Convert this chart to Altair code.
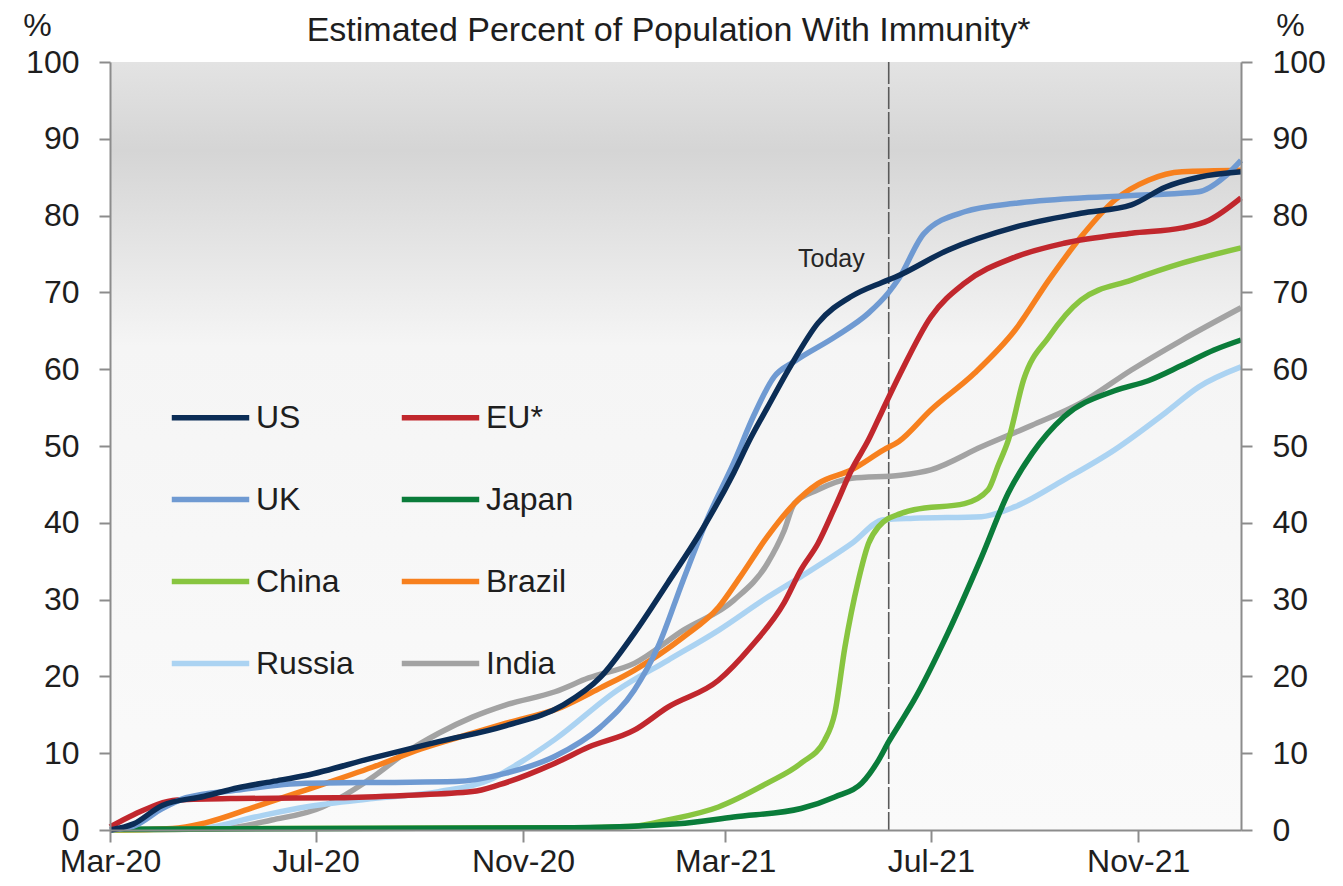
import altair as alt
import pandas as pd

FONT = "Liberation Sans, Arial, sans-serif"

# legend is filled column by column: this order gives rows US|EU*, UK|Japan, China|Brazil, Russia|India
series_names = ["US", "UK", "China", "Russia", "EU*", "Japan", "Brazil", "India"]
series_colors = ["#0b2d56", "#6f9ad2", "#88c540", "#abd3f2", "#c1272d", "#0a7c3a", "#f7801e", "#a3a3a3"]

us_dates = ["2020-03-01", "2020-03-15", "2020-04-01", "2020-04-26", "2020-05-16", "2020-06-05", "2020-06-25",
            "2020-08-04", "2020-09-12", "2020-10-22", "2020-11-25", "2020-12-17", "2021-01-06", "2021-01-26",
            "2021-02-15", "2021-03-06", "2021-03-16", "2021-03-26", "2021-04-09", "2021-04-25", "2021-05-15",
            "2021-06-02", "2021-06-10", "2021-07-11", "2021-08-20", "2021-09-28", "2021-10-28", "2021-11-17",
            "2021-12-07", "2022-01-01"]
us_values = [0.0, 0.8, 3.2, 4.4, 5.5, 6.3, 7.1, 9.4, 11.5, 13.6, 16.3, 19.9, 25.6, 32.2, 39.0, 46.5, 51.0, 55.0,
             60.5, 66.0, 69.5, 71.3, 72.0, 75.5, 78.5, 80.3, 81.4, 83.7, 85.0, 85.7]

eu_dates = ["2020-03-01", "2020-03-15", "2020-04-10", "2020-05-15", "2020-07-14", "2020-08-23", "2020-10-02",
            "2020-10-18", "2020-11-20", "2020-12-10", "2021-01-06", "2021-01-26", "2021-02-25", "2021-03-16",
            "2021-04-05", "2021-04-15", "2021-04-25", "2021-05-05", "2021-05-15", "2021-05-25", "2021-06-02",
            "2021-06-13", "2021-07-01", "2021-07-21", "2021-08-20", "2021-09-18", "2021-10-28", "2021-11-27",
            "2021-12-13", "2022-01-01"]
eu_values = [0.4, 2.0, 3.9, 4.1, 4.2, 4.5, 5.0, 5.9, 8.7, 10.8, 13.0, 16.0, 19.5, 23.8, 29.6, 33.9, 37.3, 42.0,
             46.9, 50.8, 54.5, 59.5, 66.8, 71.2, 74.6, 76.4, 77.7, 78.4, 79.4, 82.3]

uk_dates = ["2020-03-01", "2020-03-15", "2020-04-01", "2020-04-15", "2020-05-16", "2020-06-25", "2020-08-15",
            "2020-09-22", "2020-10-22", "2020-11-20", "2020-12-17", "2021-01-06", "2021-01-20", "2021-02-04",
            "2021-02-19", "2021-03-06", "2021-03-18", "2021-03-30", "2021-04-11", "2021-05-05", "2021-05-25",
            "2021-06-06", "2021-06-12", "2021-06-27", "2021-07-21", "2021-08-20", "2021-09-28", "2021-11-07",
            "2021-12-07", "2021-12-22", "2022-01-01"]
uk_values = [0.0, 0.5, 2.8, 4.2, 5.2, 6.1, 6.2, 6.3, 7.4, 9.6, 13.4, 18.2, 23.8, 32.5, 40.8, 47.8, 54.0, 59.0,
             61.0, 64.2, 67.3, 70.0, 71.8, 77.7, 80.5, 81.6, 82.3, 82.7, 83.1, 85.0, 87.2]

japan_dates = ["2020-03-01", "2020-12-01", "2021-02-01", "2021-03-06", "2021-04-15", "2021-05-05", "2021-05-21",
               "2021-05-31", "2021-06-06", "2021-06-13", "2021-06-21", "2021-07-11", "2021-07-31", "2021-08-16",
               "2021-08-30", "2021-09-18", "2021-10-18", "2021-11-07", "2021-11-27", "2021-12-16", "2022-01-01"]
japan_values = [0.1, 0.3, 0.8, 1.7, 2.8, 4.3, 6.1, 9.1, 11.5, 14.0, 16.9, 25.6, 35.5, 43.9, 49.0, 53.8, 57.2,
                58.5, 60.5, 62.5, 63.8]

china_dates = ["2020-03-01", "2020-06-01", "2020-12-01", "2021-01-06", "2021-01-26", "2021-02-25", "2021-03-26",
               "2021-04-15", "2021-04-29", "2021-05-05", "2021-05-11", "2021-05-19", "2021-05-25", "2021-05-31",
               "2021-06-13", "2021-06-21", "2021-07-21", "2021-08-04", "2021-08-10", "2021-08-16", "2021-08-25",
               "2021-09-09", "2021-09-28", "2021-10-28", "2021-11-27", "2022-01-01"]
china_values = [0.0, 0.2, 0.3, 0.5, 1.3, 3.0, 6.1, 8.7, 11.7, 15.2, 23.8, 32.5, 37.3, 39.5, 41.2, 41.7, 42.5,
                44.3, 47.5, 50.8, 58.6, 64.2, 69.0, 71.6, 73.8, 75.8]

brazil_dates = ["2020-03-01", "2020-04-07", "2020-04-26", "2020-05-26", "2020-06-25", "2020-08-04", "2020-09-02",
                "2020-10-02", "2020-10-22", "2020-11-24", "2020-12-17", "2021-01-06", "2021-02-04", "2021-02-25",
                "2021-03-10", "2021-03-26", "2021-04-11", "2021-04-25", "2021-05-15", "2021-06-03", "2021-06-12",
                "2021-07-01", "2021-07-27", "2021-08-20", "2021-09-09", "2021-09-28", "2021-10-18", "2021-11-07",
                "2021-11-27", "2022-01-01"]
brazil_values = [0.0, 0.2, 0.9, 3.0, 5.2, 8.2, 10.6, 12.6, 13.9, 16.0, 18.5, 20.8, 25.1, 29.0, 33.0, 38.2, 42.5,
                 45.1, 46.9, 49.5, 50.6, 54.7, 59.5, 65.1, 71.6, 77.2, 82.0, 84.6, 85.7, 85.9]

russia_dates = ["2020-03-01", "2020-04-26", "2020-05-26", "2020-06-25", "2020-08-04", "2020-09-12", "2020-10-12",
                "2020-10-29", "2020-11-20", "2020-12-27", "2021-01-26", "2021-02-25", "2021-03-26", "2021-04-15",
                "2021-05-15", "2021-06-03", "2021-06-21", "2021-07-31", "2021-08-20", "2021-09-18", "2021-10-18",
                "2021-11-17", "2021-12-07", "2022-01-01"]
russia_values = [0.0, 0.3, 1.7, 3.0, 4.1, 5.0, 6.5, 8.6, 11.8, 18.2, 22.1, 26.0, 30.3, 33.0, 37.3, 40.4, 40.6,
                 40.8, 42.1, 45.6, 49.5, 54.3, 57.7, 60.3]

india_dates = ["2020-03-01", "2020-05-07", "2020-06-05", "2020-07-05", "2020-07-14", "2020-08-04", "2020-08-23",
               "2020-09-12", "2020-10-02", "2020-10-22", "2020-11-20", "2020-12-10", "2021-01-06", "2021-02-04",
               "2021-03-06", "2021-03-26", "2021-04-05", "2021-04-11", "2021-04-25", "2021-05-15", "2021-06-13",
               "2021-07-01", "2021-07-31", "2021-08-30", "2021-09-28", "2021-10-28", "2021-11-27", "2022-01-01"]
india_values = [0.0, 0.2, 1.3, 3.0, 4.0, 6.9, 10.0, 12.6, 14.7, 16.3, 18.0, 19.8, 21.7, 26.0, 29.9, 34.7, 39.0,
                42.5, 44.3, 45.8, 46.2, 46.9, 49.9, 52.7, 55.6, 59.9, 63.8, 68.0]

tick_dates = ["2020-03-01", "2020-07-01", "2020-11-01", "2021-03-01", "2021-07-01", "2021-11-01"]
y_ticks = [0, 10, 20, 30, 40, 50, 60, 70, 80, 90, 100]
x_domain = ["2020-03-01", "2022-01-01"]
today_date = "2021-06-06"
today_label = "Today"
today_label_y = 74.3
title_text = "Estimated Percent of Population With Immunity*"

series_data = {
    "US": (us_dates, us_values),
    "EU*": (eu_dates, eu_values),
    "UK": (uk_dates, uk_values),
    "Japan": (japan_dates, japan_values),
    "China": (china_dates, china_values),
    "Brazil": (brazil_dates, brazil_values),
    "Russia": (russia_dates, russia_values),
    "India": (india_dates, india_values),
}
draw_order = ["India", "Russia", "Brazil", "China", "Japan", "EU*", "UK", "US"]

rows = []
for name in draw_order:
    ds, vs = series_data[name]
    for d, v in zip(ds, vs):
        rows.append({"date": d + "T00:00:00", "value": v, "series": name})
df = pd.DataFrame(rows)

bg_df = pd.DataFrame({"start": [x_domain[0] + "T00:00:00"], "end": [x_domain[1] + "T00:00:00"],
                      "lo": [0], "hi": [100]})
today_df = pd.DataFrame({"date": [today_date + "T00:00:00"], "value": [today_label_y], "label": [today_label]})


def dt(s):
    y, m, d = s.split("-")
    return alt.DateTime(year=int(y), month=int(m), date=int(d))


AXIS_COLOR = "#8c8c8c"
LABEL_COLOR = "#1e1e1e"

x_scale = alt.Scale(domain=[dt(x_domain[0]), dt(x_domain[1])], nice=False)
y_scale = alt.Scale(domain=[0, 100], nice=False)

x_axis = alt.Axis(values=[dt(s) for s in tick_dates], format="%b-%y", labelFont=FONT, labelFontSize=32,
                  labelColor=LABEL_COLOR, tickSize=12, tickWidth=2, tickColor=AXIS_COLOR, domainColor=AXIS_COLOR,
                  domainWidth=2, grid=False, labelPadding=4, labelFlush=False, labelOverlap=False, zindex=2)


def y_axis(orient, title_x):
    return alt.Axis(orient=orient, values=y_ticks, labelFont=FONT, labelFontSize=32, labelColor=LABEL_COLOR,
                    tickSize=11, tickWidth=2, tickColor=AXIS_COLOR, domainColor=AXIS_COLOR, domainWidth=2,
                    grid=False, labelPadding=20, labelOverlap=False, labelFlush=False, zindex=2,
                    titleAngle=0, titleX=title_x, titleY=-37, titleAlign="center", titleBaseline="middle",
                    titleFont=FONT, titleFontSize=32, titleFontWeight="normal", titleColor=LABEL_COLOR)


x_enc = alt.X("date:T", scale=x_scale, axis=x_axis, title=None)
x_enc_bg = alt.X("start:T", scale=x_scale, axis=x_axis, title=None)

gradient = alt.LinearGradient(
    gradient="linear",
    stops=[alt.GradientStop(color="#e3e3e3", offset=0),
           alt.GradientStop(color="#d5d5d5", offset=0.115),
           alt.GradientStop(color="#f5f5f5", offset=0.37),
           alt.GradientStop(color="#fafafa", offset=1)],
    x1=0, x2=0, y1=0, y2=1)

bg = alt.Chart(bg_df).mark_rect(fill=gradient, stroke=None).encode(
    x=x_enc_bg, x2="end:T",
    y=alt.Y("lo:Q", scale=y_scale, axis=y_axis("left", -73), title="%"),
    y2="hi:Q",
)

lines = alt.Chart(df).mark_line(strokeWidth=5.5, interpolate="monotone").encode(
    x=x_enc,
    y=alt.Y("value:Q", scale=y_scale, axis=y_axis("right", 49), title="%"),
    color=alt.Color("series:N", scale=alt.Scale(domain=series_names, range=series_colors),
                    legend=alt.Legend(orient="none", legendX=59, legendY=314, columns=2, symbolType="stroke",
                                      symbolSize=6000, symbolStrokeWidth=5.5, labelFont=FONT, labelFontSize=32,
                                      labelColor=LABEL_COLOR, title=None, rowPadding=24, columnPadding=36,
                                      labelOffset=4, labelLimit=400, symbolOpacity=1)),
    order=alt.Order("date:T"),
)

today_rule = alt.Chart(today_df).mark_rule(color="#5a5a5a", strokeWidth=1.6, strokeDash=[22, 3]).encode(
    x=x_enc,
)

today_text = alt.Chart(today_df).mark_text(align="right", baseline="middle", dx=-24, font=FONT, fontSize=25,
                                           color="#262626").encode(
    x=x_enc,
    y=alt.Y("value:Q", scale=y_scale, axis=None),
    text="label:N",
)

chart = alt.layer(bg, today_rule, lines, today_text).resolve_axis(y="independent").properties(
    width=1131, height=768,
    title=alt.Title(title_text, font=FONT, fontSize=34, fontWeight="normal", color=LABEL_COLOR,
                    anchor="middle", frame="group", offset=-39, dx=-7),
    autosize=alt.AutoSizeParams(type="none"),
    padding={"left": 102, "top": 54, "right": 92, "bottom": 50},
).configure_view(stroke=None).configure(background="white")

chart.save("out.html", embed_options={"renderer": "svg", "actions": False})
